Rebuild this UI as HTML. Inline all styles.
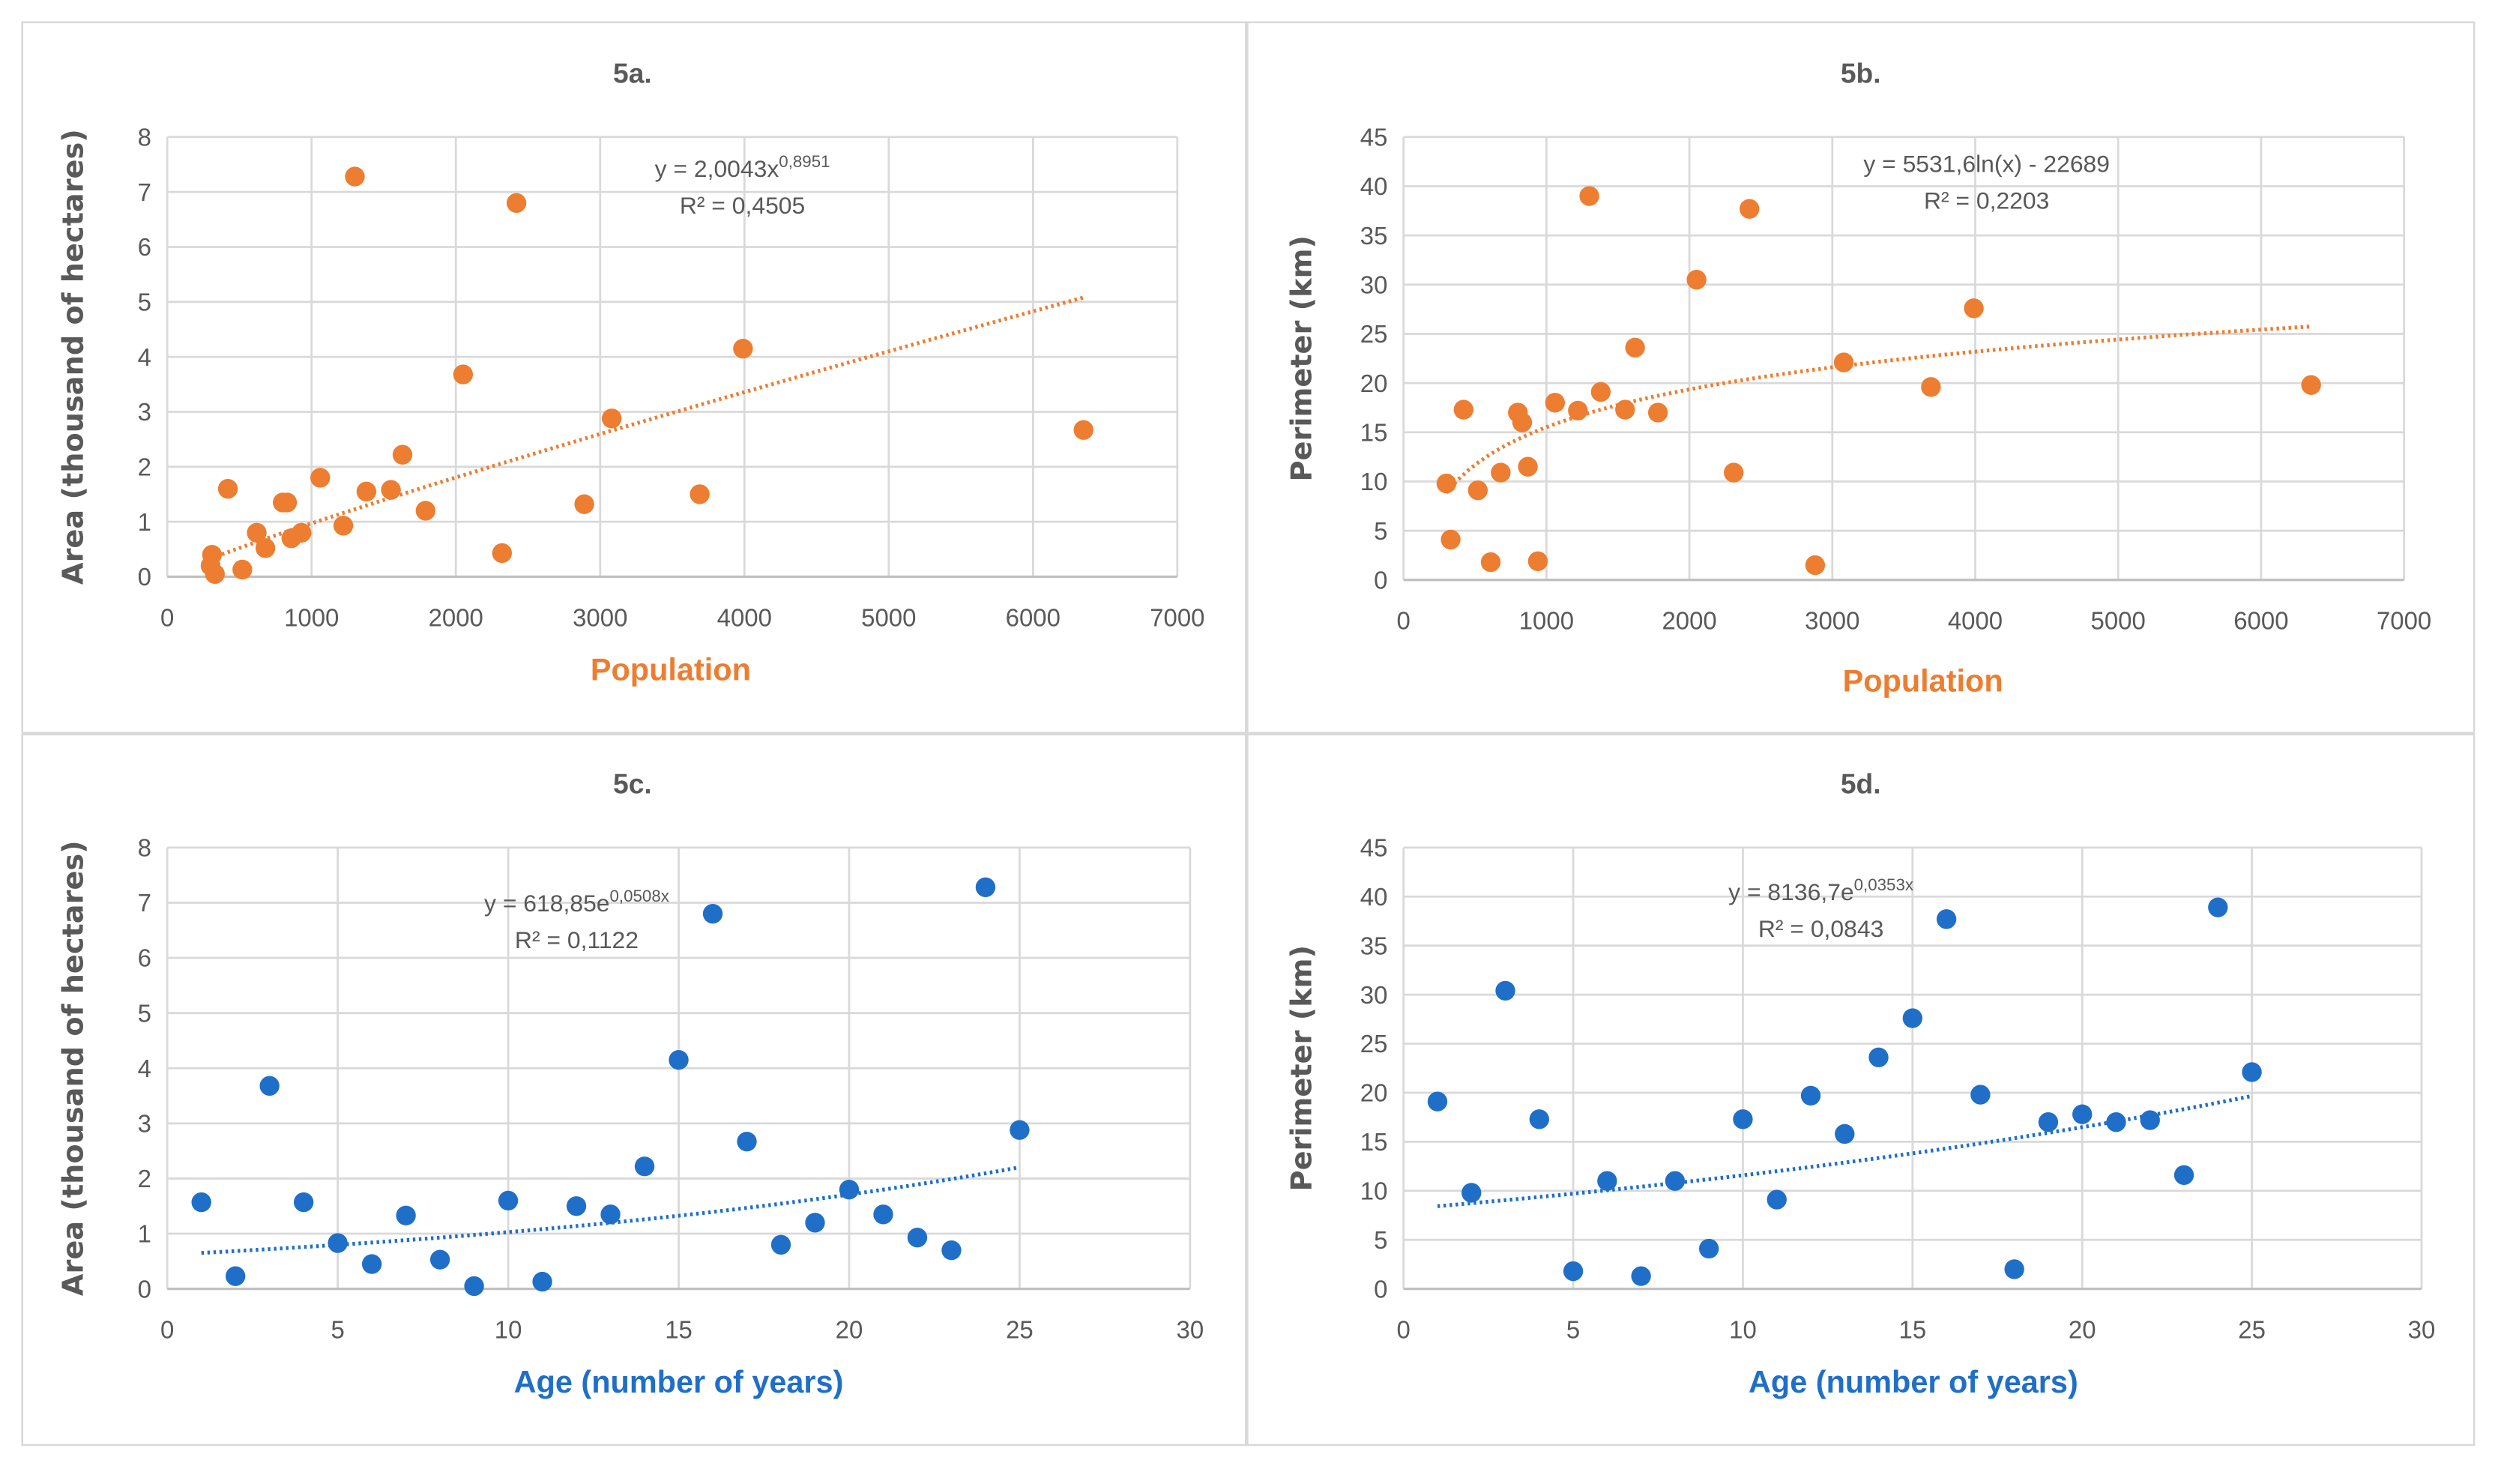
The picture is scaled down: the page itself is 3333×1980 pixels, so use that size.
<!DOCTYPE html>
<html><head><meta charset="utf-8"><style>
html,body{margin:0;padding:0;background:#fff;}
svg{display:block;font-family:"Liberation Sans",sans-serif;}
</style></head><body>
<svg id="root" width="3333" height="1980" viewBox="0 0 3333 1980" xmlns="http://www.w3.org/2000/svg">
<g id="g" transform="scale(2.12564)"></g>
</svg>
<script>
// ---- data ----
const popA = [300,310,330,420,520,620,680,800,830,860,930,1060,1220,1300,1380,1550,1630,1790,2050,2320,2420,2890,3080,3690,3990,6350];
const areaA = [0.2,0.4,0.05,1.6,0.13,0.8,0.52,1.35,1.35,0.7,0.8,1.8,0.93,7.28,1.55,1.58,2.22,1.2,3.68,0.43,6.8,1.32,2.88,1.5,4.15,2.67];
const popB = [300,330,420,520,610,680,800,830,870,940,1060,1220,1300,1380,1550,1620,1780,2050,2310,2420,2880,3080,3690,3990,6350];
const perimB = [9.8,4.1,17.3,9.1,1.8,10.9,17,16,11.5,1.9,18,17.2,39,19.1,17.3,23.6,17,30.5,10.9,37.7,1.5,22.1,19.6,27.6,19.8];
const ageC = [1,2,3,4,5,6,7,8,9,10,11,12,13,14,15,16,17,18,19,20,21,22,23,24,25];
const areaC = [1.57,0.23,3.68,1.57,0.83,0.45,1.33,0.53,0.05,1.6,0.13,1.5,1.35,2.22,4.15,6.8,2.67,0.8,1.2,1.8,1.35,0.93,0.7,7.28,2.88];
const ageD = [1,2,3,4,5,6,7,8,9,10,11,12,13,14,15,16,17,18,19,20,21,22,23,24,25];
const perimD = [19.1,9.8,30.4,17.3,1.8,11,1.3,11,4.1,17.3,9.1,19.7,15.8,23.6,27.6,37.7,19.8,2,17,17.8,17,17.2,11.6,38.9,22.1];
const popTicks = [0,1000,2000,3000,4000,5000,6000,7000];
const ageTicks = [0,5,10,15,20,25,30];
const areaTicks = [0,1,2,3,4,5,6,7,8];
const perimTicks = [0,5,10,15,20,25,30,35,40,45];

const NS="http://www.w3.org/2000/svg";
const G=document.getElementById('g');
function el(tag,attrs,parent,text){const e=document.createElementNS(NS,tag);for(const k in attrs)e.setAttribute(k,attrs[k]);if(text!==undefined)e.textContent=text;(parent||G).appendChild(e);return e;}

const ORANGE="#ED7D31", BLUE="#1F6FC9", GREY="#595959";

const frames=[[14,14,768,446],[783,14,770,446],[14,461,768,446],[783,461,770,446]];
frames.forEach((f,i)=>{
  const r=el('rect',{x:f[0],y:f[1],width:f[2],height:f[3],fill:'#fff',stroke:'#d9d9d9','stroke-width':1.2});
  
  
});

function chart(o){
  const g=el('g',{});
  
  
  const sx=v=>o.x0+(v-o.xmin)/(o.xmax-o.xmin)*(o.x1-o.x0);
  const sy=v=>o.y0-(v-o.ymin)/(o.ymax-o.ymin)*(o.y0-o.y1);
  o.yt.forEach(t=>{const l=el('line',{x1:o.x0,x2:o.x1,y1:sy(t),y2:sy(t),stroke:'#d9d9d9','stroke-width':1.3},g);
    
    const tx=el('text',{x:o.x0-10,y:sy(t)+5.5,'text-anchor':'end','font-size':15.5,fill:GREY},g,String(t));
    });
  o.xt.forEach(t=>{const l=el('line',{x1:sx(t),x2:sx(t),y1:o.y1,y2:o.y0,stroke:'#d9d9d9','stroke-width':1.3},g);
    
    const tx=el('text',{x:sx(t),y:o.y0+31,'text-anchor':'middle','font-size':15.5,fill:GREY},g,String(t));
    });
  const ax=el('line',{x1:o.x0,x2:o.x1,y1:o.y0,y2:o.y0,stroke:'#bfbfbf','stroke-width':1.5},g);
  
  const t=el('text',{x:o.tx,y:o.ty,'text-anchor':'middle','font-size':17.5,'font-weight':'bold',fill:GREY},g,o.title);
  
  const yl=el('text',{x:0,y:0,'text-anchor':'middle','font-size':18,'font-weight':'bold',fill:GREY,'font-family':'DejaVu Sans, sans-serif',transform:`translate(${o.ylx},${(o.y0+o.y1)/2}) rotate(-90)`},g,o.ylabel);
  
  const xl=el('text',{x:o.xlx,y:o.xly,'text-anchor':'middle','font-size':19.5,'font-weight':'bold',fill:o.color},g,o.xlabel);
  
  let pts=[];const N=80;
  for(let i=0;i<=N;i++){const x=o.tmin+(o.tmax-o.tmin)*i/N;pts.push(sx(x).toFixed(2)+','+sy(o.trend(x)).toFixed(2));}
  const tl=el('polyline',{points:pts.join(' '),fill:'none',stroke:o.color,'stroke-width':2.4,'stroke-dasharray':'1.6 2.2'},g);
  
  o.xs.forEach((x,i)=>{const c=el('circle',{cx:sx(x),cy:sy(o.ys[i]),r:6.2,fill:o.color},g);
    });
  const e=el('text',{x:o.ex,y:o.ey,'text-anchor':'middle','font-size':15,fill:GREY},g);
  
  el('tspan',{},e,o.eq[0]);
  el('tspan',{'font-size':10.5,dy:-6},e,o.eq[1]);
  const r2=el('text',{x:o.ex,y:o.ey+23,'text-anchor':'middle','font-size':15,fill:GREY},g,o.r2);
  
}

chart({id:'5a',title:'5a.',tx:397,ty:52,x0:105,x1:739,y0:362,y1:86,xmin:0,xmax:7000,ymin:0,ymax:8,
  xt:popTicks,yt:areaTicks,xs:popA,ys:areaA,color:ORANGE,ylabel:'Area (thousand of hectares)',ylx:52,
  xlabel:'Population',xlx:421,xly:427,trend:x=>2.0043*Math.pow(x,0.8951)/1000,tmin:300,tmax:6350,
  eq:['y = 2,0043x','0,8951'],r2:'R² = 0,4505',ex:466,ey:111});
chart({id:'5b',title:'5b.',tx:1168,ty:52,x0:881,x1:1509,y0:364,y1:86,xmin:0,xmax:7000,ymin:0,ymax:45,
  xt:popTicks,yt:perimTicks,xs:popB,ys:perimB,color:ORANGE,ylabel:'Perimeter (km)',ylx:823,
  xlabel:'Population',xlx:1207,xly:434,trend:x=>(5531.6*Math.log(x)-22689)/1000,tmin:300,tmax:6350,
  eq:['y = 5531,6ln(x) - 22689',''],r2:'R² = 0,2203',ex:1247,ey:108});
chart({id:'5c',title:'5c.',tx:397,ty:498,x0:105,x1:747,y0:809,y1:532,xmin:0,xmax:30,ymin:0,ymax:8,
  xt:ageTicks,yt:areaTicks,xs:ageC,ys:areaC,color:BLUE,ylabel:'Area (thousand of hectares)',ylx:52,
  xlabel:'Age (number of years)',xlx:426,xly:874,trend:x=>618.85*Math.exp(0.0508*x)/1000,tmin:1,tmax:25,
  eq:['y = 618,85e','0,0508x'],r2:'R² = 0,1122',ex:362,ey:572});
chart({id:'5d',title:'5d.',tx:1168,ty:498,x0:881,x1:1520,y0:809,y1:532,xmin:0,xmax:30,ymin:0,ymax:45,
  xt:ageTicks,yt:perimTicks,xs:ageD,ys:perimD,color:BLUE,ylabel:'Perimeter (km)',ylx:823,
  xlabel:'Age (number of years)',xlx:1201,xly:874,trend:x=>8136.7*Math.exp(0.0353*x)/1000,tmin:1,tmax:25,
  eq:['y = 8136,7e','0,0353x'],r2:'R² = 0,0843',ex:1143,ey:565});
</script>
</body></html>
